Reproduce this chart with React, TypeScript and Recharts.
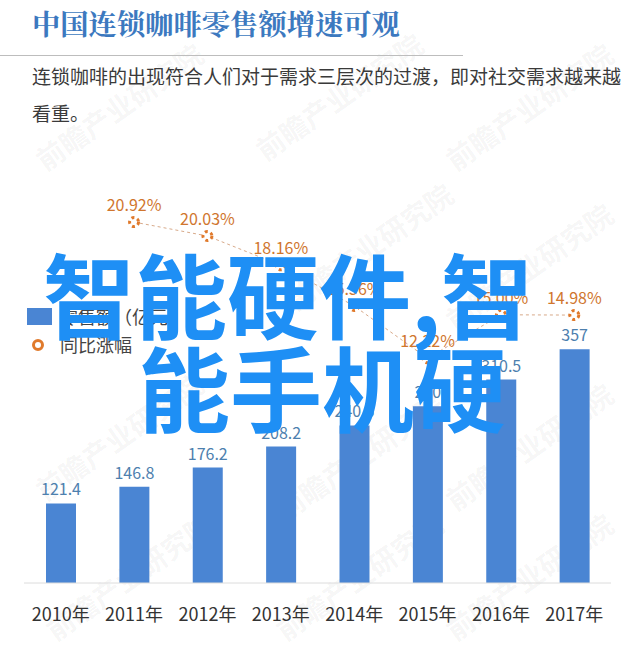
import React from "react";
import { ComposedChart, Bar, Line, XAxis, YAxis, LabelList } from "recharts";

const years = ["2010年", "2011年", "2012年", "2013年", "2014年", "2015年", "2016年", "2017年"];
const sales = [121.4, 146.8, 176.2, 208.2, 240.6, 270.0, 310.5, 357];
const salesLabels = ["121.4", "146.8", "176.2", "208.2", "240.6", "270", "310.5", "357"];
const growth: (number | null)[] = [null, 20.92, 20.03, 18.16, 15.56, 12.22, 15.0, 14.98];
const growthLabels = ["", "20.92%", "20.03%", "18.16%", "15.56%", "12.22%", "15.00%", "14.98%"];

const title = "中国连锁咖啡零售额增速可观";
const subtitle = "连锁咖啡的出现符合人们对于需求三层次的过渡，即对社交需求越来越看重。";
const legendSales = "零售额（亿元）";
const legendGrowth = "同比涨幅";
const overlay1 = "智能硬件,智";
const overlay2 = "能手机硬";
const watermark = "前瞻产业研究院";
const watermarkSpots = [
  [30, 150], [250, 140], [440, 150], [280, 290], [440, 310],
  [30, 480], [270, 500], [440, 490], [40, 620], [270, 620], [440, 620],
];

const data = years.map((y, i) => ({
  year: y,
  sales: sales[i],
  growth: growth[i],
  sl: salesLabels[i],
  gl: growthLabels[i],
}));

const CJK = '"Noto Sans CJK SC", "Noto Sans", sans-serif';

export default function App() {
  return (
    <div style={{ position: "absolute", left: 0, top: 0, width: 640, height: 667, background: "#fff", overflow: "hidden", fontFamily: CJK }}>
      {watermarkSpots.map(([x, y], i) => (
        <div key={i} style={{ position: "absolute", left: x, top: y, fontSize: 28, fontWeight: 700, color: "rgba(0,0,0,0.05)", transform: "rotate(-35deg)", transformOrigin: "left top", whiteSpace: "nowrap", lineHeight: "30px" }}>
          {watermark}
        </div>
      ))}
      <div style={{ position: "absolute", left: 32, top: 5, fontSize: 28.3, fontWeight: 700, color: "#3c79bf", fontFamily: '"Noto Serif CJK SC", "Noto Sans CJK SC", serif', whiteSpace: "nowrap", lineHeight: "36px" }}>
        {title}
      </div>
      <div style={{ position: "absolute", left: 0, top: 55, width: 463, height: 1, background: "#bdbdbd" }} />
      <div style={{ position: "absolute", left: 32, top: 57, width: 600, fontSize: 19, color: "#3a3a3a", lineHeight: "37px" }}>
        {subtitle}
      </div>
      <div style={{ position: "absolute", left: 0, top: 0 }}>
        <ComposedChart width={640} height={667} data={data} margin={{ top: 200, right: 29, left: 24, bottom: 44 }}>
          <XAxis
            dataKey="year"
            height={40}
            axisLine={{ stroke: "#dcdcdc" }}
            tickLine={false}
            tickSize={6}
            tickMargin={19}
            tick={{ fill: "#333", fontSize: 18, fontFamily: CJK }}
            interval={0}
          />
          <YAxis yAxisId="l" hide domain={[0, 584.7]} />
          <YAxis yAxisId="r" hide orientation="right" domain={[-2.13, 22.33]} />
          <Bar yAxisId="l" dataKey="sales" fill="#4a85d3" barSize={30} isAnimationActive={false}>
            <LabelList dataKey="sl" position="top" offset={8} fill="#4d80ae" fontSize={16} fontFamily={CJK} />
          </Bar>
          <Line
            yAxisId="r"
            dataKey="growth"
            type="linear"
            stroke="#d8aa8a"
            strokeWidth={1}
            strokeDasharray="3 3"
            dot={{ r: 4.5, fill: "#fff", stroke: "#e07a2c", strokeWidth: 3 }}
            isAnimationActive={false}
          >
            <LabelList dataKey="gl" position="top" offset={11} fill="#d0762e" fontSize={16} fontFamily={CJK} />
          </Line>
        </ComposedChart>
      </div>
      <div style={{ position: "absolute", left: 27, top: 308, width: 25, height: 17, background: "#4a85d3" }} />
      <div style={{ position: "absolute", left: 60, top: 304, fontSize: 18, color: "#444", lineHeight: "24px", whiteSpace: "nowrap" }}>{legendSales}</div>
      <div style={{ position: "absolute", left: 32, top: 339, width: 6, height: 6, borderRadius: "50%", border: "3px solid #e07a2c", background: "#fff" }} />
      <div style={{ position: "absolute", left: 60, top: 332, fontSize: 18, color: "#444", lineHeight: "24px", whiteSpace: "nowrap" }}>{legendGrowth}</div>
      <div style={{ position: "absolute", left: 43, top: 245, fontSize: 92, fontWeight: 700, color: "#1e8ff5", lineHeight: "93px", whiteSpace: "nowrap" }}>{overlay1}</div>
      <div style={{ position: "absolute", left: 138, top: 338, fontSize: 92, fontWeight: 700, color: "#1e8ff5", lineHeight: "93px", whiteSpace: "nowrap" }}>{overlay2}</div>
    </div>
  );
}
